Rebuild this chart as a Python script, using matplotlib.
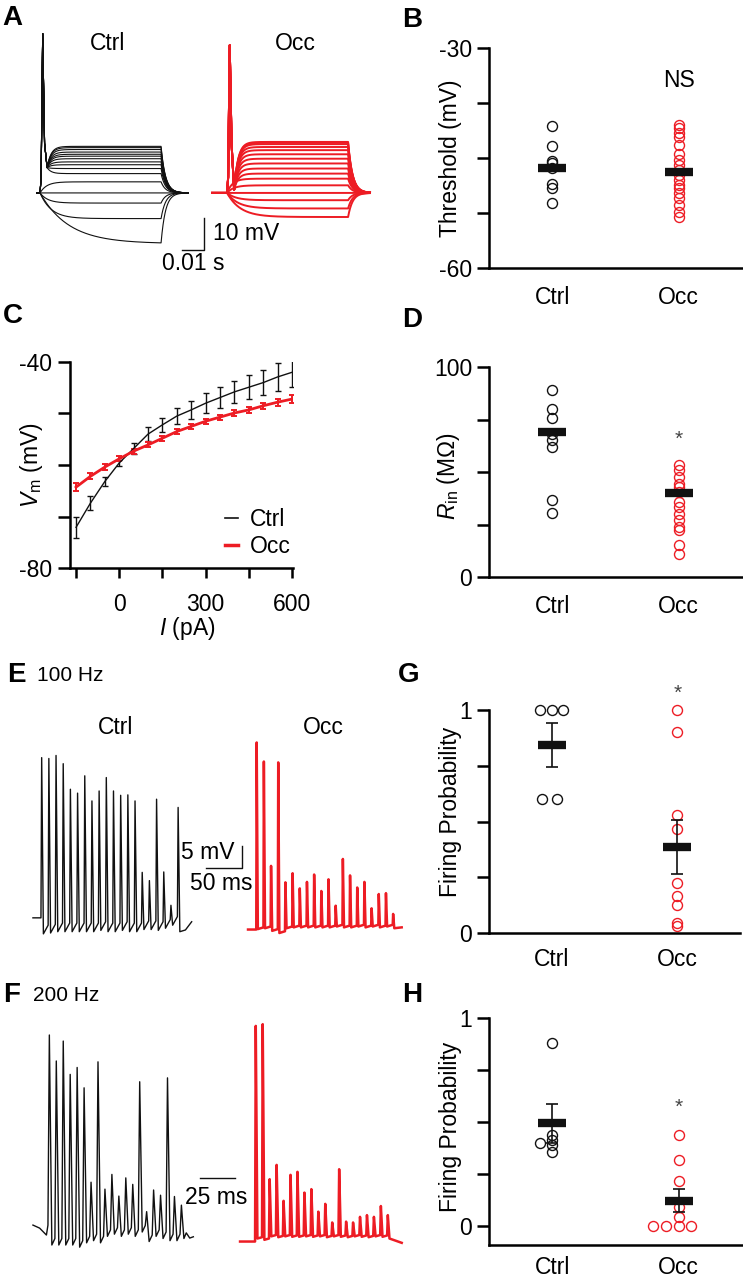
import numpy as np
import matplotlib
matplotlib.use("Agg")
import matplotlib.pyplot as plt
from matplotlib.lines import Line2D

plt.rcParams["font.family"] = ["Liberation Sans", "DejaVu Sans"]
plt.rcParams["mathtext.fontset"] = "custom"
plt.rcParams["mathtext.rm"] = "Liberation Sans"
plt.rcParams["mathtext.it"] = "Liberation Sans:italic"

BLACK = "#111111"
RED = "#ed1c24"
STAR = "#444444"
FS = 16.5

# ---------------- data ----------------
# A: responses to current steps, steady deflection from rest (mV)
A_CTRL_LEVELS = [-16.0, -8.1, -3.2, 0.0, 3.5, 6.1, 7.7, 8.9, 9.8, 10.8, 11.6, 12.2, 12.9, 13.7, 14.3, 14.7]
A_CTRL_TAU = [13, 5, 3.5, 3, 3, 3, 3, 3, 3, 3, 3, 3, 3, 3, 3, 3]
A_OCC_LEVELS = [-7.6, -4.9, -2.3, 0.0, 2.4, 4.5, 6.1, 7.7, 9.3, 10.8, 12.2, 13.5, 14.5, 15.4, 15.8, 16.1]
A_OCC_TAU = [6, 5, 4, 3, 3, 2.5, 2, 2, 2, 2, 2, 2, 2, 2, 2, 2]
A_SPIKE_PEAK = [50.3, 46.6]   # ctrl, occ
A_AHP = [8.0, 1.0]
A_STEP_MS = 55
A_OCC_START = 85

# B: threshold (mV)
B_CTRL = [-40.6, -43.3, -45.4, -45.7, -46.4, -48.6, -49.1, -51.2]
B_OCC = [-40.5, -40.9, -41.6, -42.1, -43.2, -44.4, -45.3, -46.0, -46.6,
         -47.3, -48.0, -48.7, -49.1, -49.8, -50.5, -51.4, -52.3, -53.1]
B_MEAN = [-46.4, -46.9]

# C: I-V relation
C_CURRENT = [-150, -100, -50, 0, 50, 100, 150, 200, 250, 300, 350, 400, 450, 500, 550, 600]
C_CTRL_VM = [-72.1, -67.4, -63.2, -59.6, -56.8, -54.0, -52.2, -50.5, -49.3, -48.0, -46.9, -45.8, -44.9, -44.0, -42.9, -42.0]
C_CTRL_SEM = [2.1, 1.4, 0.9, 0.6, 1.0, 1.3, 1.4, 1.6, 1.7, 1.9, 2.1, 2.2, 2.3, 2.5, 2.7, 2.9]
C_OCC_VM = [-64.3, -62.2, -60.4, -58.8, -57.3, -56.1, -54.8, -53.5, -52.5, -51.5, -50.7, -49.9, -49.3, -48.5, -47.8, -47.2]
C_OCC_SEM = [0.8, 0.6, 0.5, 0.5, 0.5, 0.5, 0.5, 0.5, 0.5, 0.5, 0.5, 0.6, 0.6, 0.6, 0.7, 0.7]

# D: input resistance (MOhm)
D_CTRL = [89.2, 80.2, 75.9, 68.0, 65.1, 61.9, 36.5, 30.5]
D_OCC = [53.5, 50.8, 47.6, 44.4, 42.9, 40.5, 35.7, 33.3, 30.2, 27.0, 23.8, 22.2, 15.1, 11.1]
D_MEAN = [69.0, 40.2]

# E: 100 Hz trains, spike peaks / troughs (mV above ctrl trough)
E_CTRL_PEAKS = [40.2, 40.0, 40.7, 38.8, 32.9, 32.0, 36.0, 30.2, 32.5, 35.6,
                32.5, 31.5, 31.6, 30.2, 13.7, 11.8, 30.6, 13.8, 6.1, 28.7]
E_CTRL_TROUGHS = [-0.5, -0.3, 0, 0, 0, 0, 0, 0, 0.3, 0, 0, 0.3, 0, 0, 0.5, 0.5, 0.3, 0.8, 1.5, 0.0]
E_OCC_PEAKS = [43.7, 39.3, 15.2, 39.1, 11.4, 13.5, 10.0, 11.5, 13.2, 9.4,
               12.1, 6.0, 16.8, 13.0, 10.2, 11.5, 5.4, 8.7, 8.9, 4.1]
E_OCC_TROUGHS = [0.6, 0.8, 0.2, -0.3, 0.8, 1.0, 1.0, 1.0, 1.0, 1.0,
                 1.0, 1.2, 1.0, 1.0, 1.2, 1.0, 1.2, 1.0, 1.2, 0.8]

# F: 200 Hz trains
F_CTRL_PEAKS = [48.5, 42.5, 47.1, 39.4, 41.0, 36.3, 14.5, 42.3, 12.9, 16.3,
                11.3, 15.5, 14.0, 37.7, 7.7, 12.7, 11.5, 38.6, 11.2, 9.2]
F_CTRL_TROUGHS = [0, 0, 0, 0, -0.5, 0.5, 1.0, 0.5, 2.0, 2.5,
                  2.0, 2.5, 2.0, 3.0, 0.8, 2.0, 1.5, 1.0, 1.0, 1.5]
F_OCC_PEAKS = [50.6, 51.0, 15.2, 18.5, 10.2, 16.2, 16.9, 12.1, 12.9, 7.7,
               9.5, 5.2, 17.5, 5.4, 5.2, 6.5, 6.9, 6.5, 9.0, 6.9]
F_OCC_TROUGHS = [1.5, 1.2, 2.0, 1.8, 2.0, 1.9, 1.9, 2.0, 1.9, 2.0,
                 1.8, 2.0, 1.9, 1.8, 2.0, 1.9, 1.8, 2.0, 1.9, 1.5]

# G / H: firing probability
G_CTRL = [1.0, 1.0, 1.0, 0.6, 0.6]
G_CTRL_DX = [-0.045, 0.0, 0.046, -0.04, 0.02]
G_OCC = [1.0, 0.903, 0.528, 0.466, 0.222, 0.166, 0.124, 0.045, 0.03]
G_MEAN = [0.843, 0.386]
G_SEM = [0.097, 0.12]
H_CTRL = [0.882, 0.437, 0.413, 0.40, 0.389, 0.357]
H_CTRL_DX = [0, 0, 0, -0.05, 0, 0]
H_OCC = [0.437, 0.317, 0.216, 0.093, 0.045, 0, 0, 0, 0]
H_OCC_DX = [0, 0, 0, 0, 0, -0.1, -0.05, 0, 0.05]
H_MEAN = [0.493, 0.122]
H_SEM = [0.096, 0.054]

# ---------------- figure ----------------
W, H = 743, 1280
fig = plt.figure(figsize=(W / 100, H / 100), dpi=100)


def px_axes(x0, y0, x1, y1):
    return fig.add_axes([x0 / W, 1 - y1 / H, (x1 - x0) / W, (y1 - y0) / H])


def fig_text(x, y, s, **kw):
    fig.text(x / W, 1 - y / H, s, **kw)


def step_response(t, level, tau, dur, spike=None, ahp=0.0, tau_off=2.0):
    on = np.clip(t, 0, None)
    v = level * (1 - np.exp(-on / tau))
    if spike is not None:
        shape = np.interp(on, [0, 0.5, 1.2, 2.0, 3.2], [0, 5, spike, 16, ahp])
        rec = ahp + (level - ahp) * (1 - np.exp(-np.clip(on - 3.2, 0, None) / 1.8))
        v = np.where(on < 3.2, shape, rec)
    v_end = v[np.searchsorted(t, dur)]
    v = np.where(t > dur, v_end * np.exp(-(t - dur) / tau_off), v)
    return np.where(t < 0, 0.0, v)


def spike_train(t_first, period, peaks, troughs, base, t_start, rise, fall, recover):
    ts, vs = [t_start], [base]
    for i, (pk, tr) in enumerate(zip(peaks, troughs)):
        tp = t_first + i * period
        ts += [tp - rise, tp, tp + fall]
        vs += [vs[-1] + (recover if i else 0), pk, tr]
    return ts, vs


def dot_panel(ax, ctrl, occ, means, ctrl_dx=None, occ_dx=None, sem=None, xpad=13):
    xs = [0.25, 0.75]
    ctrl_dx = ctrl_dx or [0] * len(ctrl)
    occ_dx = occ_dx or [0] * len(occ)
    ax.plot(np.add(xs[0], ctrl_dx), ctrl, "o", ms=7.2, mfc="none", mec=BLACK, mew=1.0,
            clip_on=False, zorder=2)
    ax.plot(np.add(xs[1], occ_dx), occ, "o", ms=7.2, mfc="none", mec=RED, mew=1.0,
            clip_on=False, zorder=2)
    if sem is not None:
        ax.errorbar(xs, means, yerr=sem, fmt="none", ecolor=BLACK, elinewidth=1.2,
                    capsize=4, capthick=1.2, zorder=3)
    ax.hlines(means, [x - 0.055 for x in xs], [x + 0.055 for x in xs], colors=BLACK,
              lw=6, zorder=4)
    ax.set_xlim(0, 1)
    ax.set_xticks(xs)
    ax.set_xticklabels(["Ctrl", "Occ"])
    for side in ("top", "right"):
        ax.spines[side].set_visible(False)
    for side in ("left", "bottom"):
        ax.spines[side].set_linewidth(1.8)
    ax.tick_params(axis="y", direction="out", length=9, width=1.8, pad=3, labelsize=FS)
    ax.tick_params(axis="x", length=0, pad=xpad, labelsize=FS)


def star(ax, x, y):
    ax.annotate("*", (x, y), xytext=(0, -8.5), textcoords="offset points", ha="center",
                va="baseline", fontsize=15, color=STAR, annotation_clip=False)


# ---- A ----
axA = px_axes(0, 0, 380, 300)
axA.set_xlim(-18.2, 154.5)
axA.set_ylim(-33.8, 60.9)
axA.axis("off")
t = np.arange(-1.5, 67.3, 0.05)
for lev, tau in zip(A_CTRL_LEVELS, A_CTRL_TAU):
    sp = A_SPIKE_PEAK[0] if lev >= 6 else None
    axA.plot(t, step_response(t, lev, tau, A_STEP_MS, sp, A_AHP[0]), color=BLACK, lw=0.8)
t2 = np.arange(-6.8, 65, 0.05)
for lev, tau in zip(A_OCC_LEVELS, A_OCC_TAU):
    sp = A_SPIKE_PEAK[1] if lev >= 6 else None
    axA.plot(t2 + A_OCC_START, step_response(t2, lev, tau, A_STEP_MS, sp, A_AHP[1]),
             color=RED, lw=1.4)
bar_t, bar_v = 74.5, -17.9
axA.plot([bar_t - 10, bar_t, bar_t], [bar_v, bar_v, bar_v + 10], color=BLACK, lw=1.0)
axA.text(bar_t + 4, bar_v + 5, "10 mV", fontsize=FS, ha="left", va="center")
axA.text(bar_t - 5, bar_v - 4.5, "0.01 s", fontsize=FS, ha="center", va="center")
fig_text(108, 44, "Ctrl", fontsize=FS, ha="center", va="center")
fig_text(295, 44, "Occ", fontsize=FS, ha="center", va="center")

# ---- B ----
axB = px_axes(489, 48, 742, 268)
dot_panel(axB, B_CTRL, B_OCC, B_MEAN)
axB.set_ylim(-60, -30)
axB.set_yticks([-60, -52.5, -45, -37.5, -30])
axB.set_yticklabels(["-60", "", "", "", "-30"])
axB.set_ylabel("Threshold (mV)", fontsize=FS)
axB.yaxis.set_label_coords(-0.107, 0.5)
axB.text(0.75, -34.4, "NS", fontsize=FS, ha="center", va="center")

# ---- C ----
axC = px_axes(70, 362, 293, 568)
axC.errorbar(C_CURRENT, C_CTRL_VM, yerr=C_CTRL_SEM, color=BLACK, lw=1.0, elinewidth=1.0,
             capsize=2.5, capthick=1.0)
axC.errorbar(C_CURRENT, C_OCC_VM, yerr=C_OCC_SEM, color=RED, lw=2.0, elinewidth=1.4,
             capsize=2.5, capthick=1.4)
axC.set_xlim(-171, 603.5)
axC.set_ylim(-80, -40)
axC.set_yticks([-80, -70, -60, -50, -40])
axC.set_yticklabels(["-80", "", "", "", "-40"])
axC.set_xticks([-150, 0, 150, 300, 450, 600])
axC.set_xticklabels(["", "0", "", "300", "", "600"])
for side in ("top", "right"):
    axC.spines[side].set_visible(False)
for side in ("left", "bottom"):
    axC.spines[side].set_linewidth(1.8)
axC.tick_params(axis="y", direction="out", length=9, width=1.8, pad=4, labelsize=FS)
axC.tick_params(axis="x", direction="out", length=7, width=1.8, pad=11, labelsize=FS)
axC.set_ylabel("$V_\\mathrm{m}$ (mV)", fontsize=FS)
axC.yaxis.set_label_coords(-0.112, 0.5)
axC.set_xlabel("$I$ (pA)", fontsize=FS)
axC.xaxis.set_label_coords(0.525, -0.23)
axC.legend([Line2D([], [], color=BLACK, lw=1.2), Line2D([], [], color=RED, lw=2.5)],
           ["Ctrl", "Occ"], loc="lower right", bbox_to_anchor=(0.99, 0.05), frameon=False,
           fontsize=FS, handlelength=0.6, handletextpad=0.5, labelspacing=0.15,
           borderpad=0, borderaxespad=0)

# ---- D ----
axD = px_axes(489, 367, 742, 577)
dot_panel(axD, D_CTRL, D_OCC, D_MEAN)
axD.set_ylim(0, 100)
axD.set_yticks([0, 25, 50, 75, 100])
axD.set_yticklabels(["0", "", "", "", "100"])
axD.set_ylabel("$R_\\mathrm{in}$ (M\u03a9)", fontsize=FS)
axD.yaxis.set_label_coords(-0.107, 0.48)
star(axD, 0.75, 68.7)

# ---- E ----
axE = px_axes(0, 690, 420, 950)
axE.set_xlim(0, 420 / 0.716)
axE.set_ylim(-(950 - 931.7) / 4.33, (931.7 - 690) / 4.33)
axE.axis("off")
ts, vs = spike_train(58.2, 10.03, E_CTRL_PEAKS, E_CTRL_TROUGHS, 3.2, 46.0, 1.0, 2.4, 2.0)
ts += [259, 267.7]
vs += [0.4, 2.3]
axE.plot(ts, vs, color=BLACK, lw=1.0, solid_joinstyle="round")
ts, vs = spike_train(358.5, 10.03, E_OCC_PEAKS, E_OCC_TROUGHS, 0.5, 346.4, 0.6, 1.6, 0.4)
ts += [561]
vs += [1.0]
axE.plot(ts, vs, color=RED, lw=1.8, solid_joinstyle="round")
bar_t, bar_v = 338.0, 14.7
axE.plot([bar_t - 50, bar_t, bar_t], [bar_v, bar_v, bar_v + 5], color=BLACK, lw=1.0)
axE.text(bar_t - 10, bar_v + 3.6, "5 mV", fontsize=FS, ha="right", va="center")
axE.text(bar_t - 29, bar_v - 3.5, "50 ms", fontsize=FS, ha="center", va="center")
fig_text(116, 728, "Ctrl", fontsize=FS, ha="center", va="center")
fig_text(323, 728, "Occ", fontsize=FS, ha="center", va="center")

# ---- F ----
axF = px_axes(0, 1010, 420, 1260)
axF.set_xlim(0, 420 / 1.39)
axF.set_ylim(-(1260 - 1245) / 4.33, (1245 - 1010) / 4.33)
axF.axis("off")
ts, vs = spike_train(35.5, 5.0, F_CTRL_PEAKS, F_CTRL_TROUGHS, 4.6, 23.7, 1.0, 1.8, 1.5)
ts[1:1] = [28.5, 33.4]
vs[1:1] = [3.9, 2.3]
ts += [134, 136.5, 139.1]
vs += [2.8, 1.6, 1.9]
axF.plot(ts, vs, color=BLACK, lw=1.0, solid_joinstyle="round")
ts, vs = spike_train(184.0, 5.0, F_OCC_PEAKS, F_OCC_TROUGHS, 0.8, 172.7, 0.5, 1.2, 0.3)
ts += [289]
vs += [0.5]
axF.plot(ts, vs, color=RED, lw=1.8, solid_joinstyle="round")
bar_t, bar_v = 169.1, 15.5
axF.plot([bar_t - 25, bar_t], [bar_v, bar_v], color=BLACK, lw=1.0)
axF.text(bar_t - 13.3, bar_v - 4.6, "25 ms", fontsize=FS, ha="center", va="center")

# ---- G ----
axG = px_axes(489, 710, 740, 933)
dot_panel(axG, G_CTRL, G_OCC, G_MEAN, ctrl_dx=G_CTRL_DX, sem=G_SEM, xpad=11)
axG.set_ylim(0, 1)
axG.set_yticks([0, 0.25, 0.5, 0.75, 1])
axG.set_yticklabels(["0", "", "", "", "1"])
axG.set_ylabel("Firing Probability", fontsize=FS)
axG.yaxis.set_label_coords(-0.107, 0.545)
star(axG, 0.75, 1.103)

# ---- H ----
axH = px_axes(489, 1018, 742, 1245)
dot_panel(axH, H_CTRL, H_OCC, H_MEAN, ctrl_dx=H_CTRL_DX, occ_dx=H_OCC_DX, sem=H_SEM, xpad=8)
axH.set_ylim(-0.091, 1)
axH.set_yticks([0, 0.25, 0.5, 0.75, 1])
axH.set_yticklabels(["0", "", "", "", "1"])
axH.set_ylabel("Firing Probability", fontsize=FS)
axH.yaxis.set_label_coords(-0.107, 0.52)
star(axH, 0.75, 0.602)

# ---- panel letters ----
for x, y, s in [(2, 5, "A"), (402, 7, "B"), (3, 303, "C"), (402, 307, "D"),
                (7, 662, "E"), (398, 662, "G"), (3, 982, "F"), (402, 982, "H")]:
    fig_text(x, y, s, fontsize=20, fontweight="bold", ha="left", va="top")
fig_text(37, 681, "100 Hz", fontsize=15, ha="left", va="baseline")
fig_text(33, 1001, "200 Hz", fontsize=15, ha="left", va="baseline")

fig.savefig("out.png", dpi=100)
